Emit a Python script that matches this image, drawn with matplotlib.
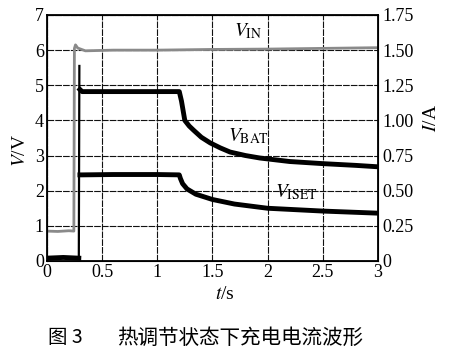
import matplotlib.pyplot as plt

plt.rcParams['font.family'] = ['Liberation Serif', 'Noto Sans CJK SC']
plt.rcParams['mathtext.fontset'] = 'stix'

# V_IN (grey trace)
t_vin = [0, 0.10, 0.20, 0.245, 0.25, 0.26, 0.28, 0.35, 0.6, 1.0, 1.5, 2.0, 2.5, 3.0]
vin = [0.85, 0.84, 0.86, 0.85, 6.05, 6.15, 6.06, 5.98, 6.0, 6.0, 6.02, 6.03, 6.05, 6.07]

# V_BAT (upper black trace)
t_bat = [0, 0.15, 0.29, 0.295, 0.30, 0.32, 0.6, 1.0, 1.2, 1.22, 1.25, 1.29, 1.33, 1.4,
         1.48, 1.57, 1.66, 1.8, 1.93, 2.2, 2.5, 2.8, 3.0]
vbat = [0.08, 0.1, 0.08, 5.55, 4.88, 4.82, 4.82, 4.82, 4.82, 4.55, 4.0, 3.84, 3.72, 3.52,
        3.36, 3.22, 3.1, 3.0, 2.93, 2.83, 2.77, 2.72, 2.68]

# V_ISET (lower black trace)
t_iset = [0.30, 0.32, 0.6, 1.0, 1.2, 1.21, 1.23, 1.27, 1.35, 1.5, 1.7, 2.0, 2.5, 3.0]
viset = [2.45, 2.45, 2.46, 2.46, 2.45, 2.35, 2.2, 2.05, 1.9, 1.75, 1.62, 1.5, 1.42, 1.36]

v_ticks = [0, 1, 2, 3, 4, 5, 6, 7]
i_ticks = [0, 0.25, 0.5, 0.75, 1.0, 1.25, 1.5, 1.75]
i_labels = ['0', '0.25', '0.50', '0.75', '1.00', '1.25', '1.50', '1.75']
t_ticks = [0, 0.5, 1, 1.5, 2, 2.5, 3]
t_labels = ['0', '0.5', '1', '1.5', '2', '2.5', '3']

fig = plt.figure(figsize=(4.5, 3.57), dpi=100)
ax = fig.add_axes([0.104, 0.269, 0.736, 0.689])

ax.plot(t_vin, vin, color='#8a8a8a', lw=2.0)
# the switch-on edge is a thin trace, the rest is thick and noisy
ax.plot(t_bat[:4], vbat[:4], color='black', lw=1.6)
ax.plot(t_bat[:3], vbat[:3], color='black', lw=3.5)
ax.plot(t_bat[4:], vbat[4:], color='black', lw=3.5)
ax.plot(t_iset, viset, color='black', lw=3.5)

ax.set_xlim(0, 3)
ax.set_ylim(0, 7)
ax.set_xticks(t_ticks)
ax.set_xticklabels(t_labels)
ax.set_yticks(v_ticks)
ax.grid(True, color='#111111', lw=0.8, linestyle=(0, (6, 1)))
ax.tick_params(length=0, labelsize=13, pad=2)
for s in ax.spines.values():
    s.set_linewidth(1.3)

ax2 = ax.twinx()
ax2.set_ylim(0, 1.75)
ax2.set_yticks(i_ticks)
ax2.set_yticklabels(i_labels)
ax2.tick_params(length=0, labelsize=13, pad=3)

ax.text(1.7, 6.4, '$V_{\\mathrm{IN}}$', fontsize=14)
ax.text(1.64, 3.4, '$V_{\\mathrm{BAT}}$', fontsize=14)
ax.text(2.07, 1.8, '$V_{\\mathrm{ISET}}$', fontsize=14)

fig.text(0.045, 0.58, '$V$/V', rotation=90, fontsize=14, va='center', ha='center')
fig.text(0.96, 0.67, '$I$/A', rotation=90, fontsize=14, va='center', ha='center')
fig.text(0.5, 0.175, '$t$/s', fontsize=14, va='center', ha='center')
cjk = ['Noto Sans CJK SC', 'DejaVu Sans']
fig.text(0.107, 0.055, '图 3', fontsize=14, va='center', ha='left', family=cjk)
fig.text(0.26, 0.055, '热调节状态下充电电流波形', fontsize=14.8, va='center',
         ha='left', family=cjk)

fig.savefig('out.png', dpi=100)
